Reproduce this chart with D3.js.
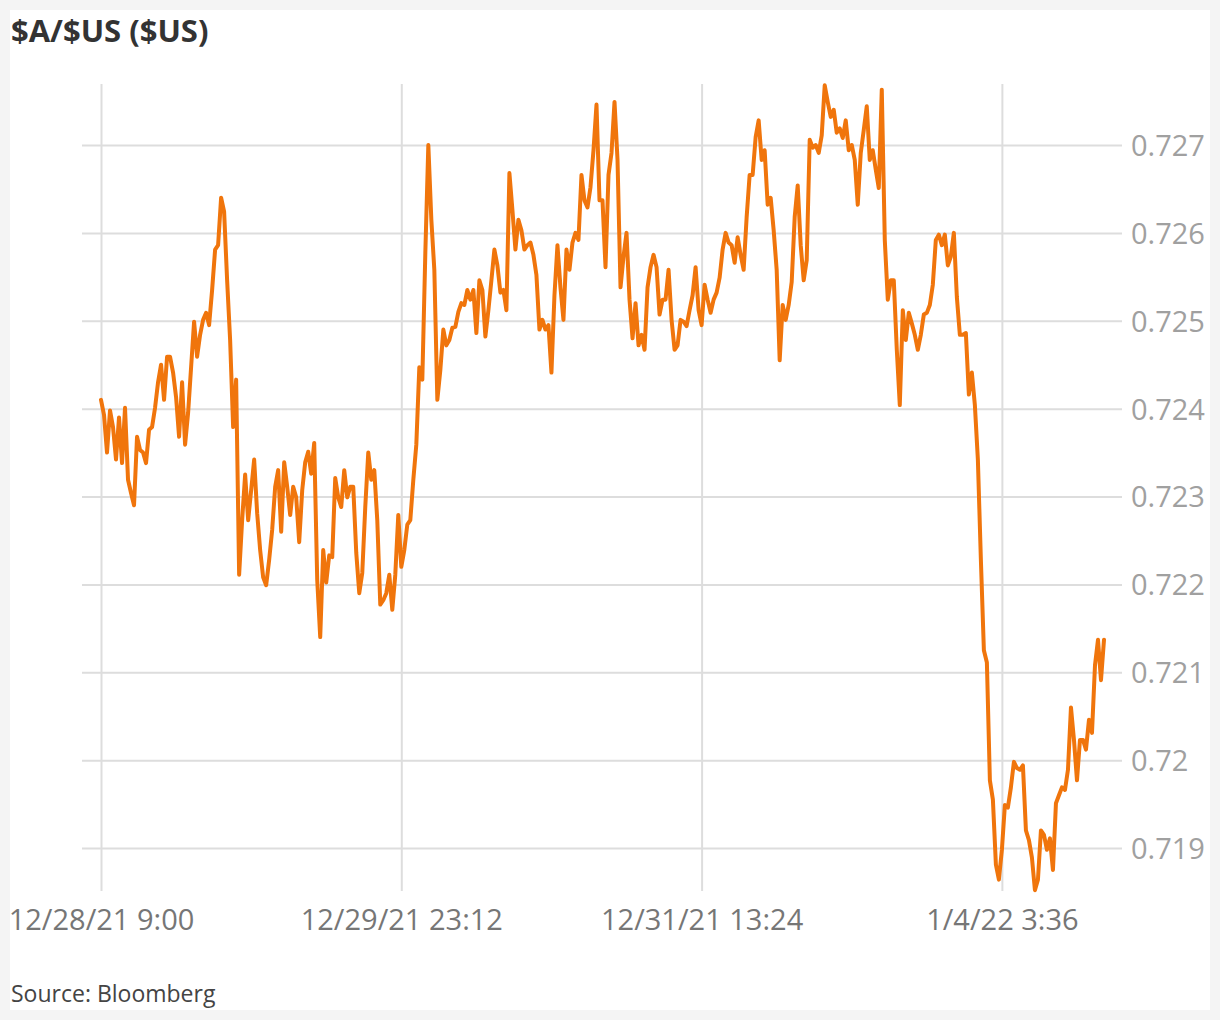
<!DOCTYPE html>
<html>
<head>
<meta charset="utf-8">
<script src="https://cdn.jsdelivr.net/npm/d3@7"></script>
<style>
  html, body { margin: 0; padding: 0; background: #f4f4f4; }
  svg { display: block; }
</style>
</head>
<body>
<svg id="chart" width="1220" height="1020"></svg>
<script>
// ---- Data ----
const title = "$A/$US ($US)";
const source = "Source: Bloomberg";
const yTicks = [0.719, 0.720, 0.721, 0.722, 0.723, 0.724, 0.725, 0.726, 0.727];
const yTickLabels = ["0.719", "0.72", "0.721", "0.722", "0.723", "0.724", "0.725", "0.726", "0.727"];
const xTickIndex = [0, 100, 200, 300];
const xTickLabels = ["12/28/21 9:00", "12/29/21 23:12", "12/31/21 13:24", "1/4/22 3:36"];

// AUD/USD, evenly spaced observations
const rate = [
0.72410,0.72393,0.72350,0.72398,0.72379,0.72342,0.72390,0.72338,0.72401,0.72319,
0.72304,0.72290,0.72368,0.72353,0.72350,0.72338,0.72376,0.72379,0.72401,0.72430,
0.72450,0.72410,0.72459,0.72459,0.72441,0.72413,0.72368,0.72430,0.72359,0.72395,
0.72447,0.72499,0.72459,0.72484,0.72501,0.72509,0.72495,0.72535,0.72581,0.72586,
0.72640,0.72624,0.72546,0.72478,0.72379,0.72433,0.72211,0.72273,0.72325,0.72273,
0.72307,0.72342,0.72281,0.72239,0.72208,0.72199,0.72228,0.72262,0.72311,0.72330,
0.72260,0.72339,0.72311,0.72279,0.72311,0.72299,0.72248,0.72307,0.72339,0.72351,
0.72326,0.72361,0.72205,0.72140,0.72239,0.72202,0.72233,0.72231,0.72321,0.72299,
0.72288,0.72330,0.72299,0.72311,0.72311,0.72236,0.72190,0.72213,0.72288,0.72350,
0.72319,0.72330,0.72273,0.72177,0.72182,0.72190,0.72211,0.72171,0.72211,0.72279,
0.72220,0.72239,0.72268,0.72273,0.72319,0.72359,0.72447,0.72433,0.72577,0.72700,
0.72615,0.72558,0.72410,0.72444,0.72490,0.72472,0.72478,0.72492,0.72493,0.72510,
0.72520,0.72518,0.72535,0.72524,0.72535,0.72486,0.72546,0.72535,0.72482,0.72512,
0.72546,0.72581,0.72563,0.72532,0.72535,0.72512,0.72668,0.72626,0.72581,0.72615,
0.72603,0.72581,0.72586,0.72589,0.72575,0.72552,0.72490,0.72501,0.72490,0.72495,
0.72441,0.72529,0.72586,0.72538,0.72501,0.72581,0.72558,0.72589,0.72600,0.72592,
0.72666,0.72637,0.72629,0.72652,0.72694,0.72746,0.72637,0.72637,0.72561,0.72666,
0.72691,0.72749,0.72683,0.72538,0.72573,0.72600,0.72524,0.72480,0.72520,0.72472,
0.72484,0.72467,0.72538,0.72561,0.72575,0.72561,0.72507,0.72524,0.72524,0.72558,
0.72501,0.72467,0.72472,0.72501,0.72499,0.72494,0.72512,0.72529,0.72561,0.72512,
0.72495,0.72541,0.72524,0.72509,0.72524,0.72532,0.72549,0.72581,0.72600,0.72589,
0.72586,0.72566,0.72595,0.72575,0.72558,0.72618,0.72666,0.72666,0.72709,0.72728,
0.72683,0.72694,0.72632,0.72640,0.72603,0.72558,0.72455,0.72518,0.72501,0.72518,
0.72544,0.72618,0.72654,0.72586,0.72546,0.72569,0.72706,0.72697,0.72700,0.72691,
0.72711,0.72768,0.72749,0.72732,0.72740,0.72714,0.72719,0.72708,0.72728,0.72694,
0.72700,0.72683,0.72632,0.72691,0.72717,0.72744,0.72683,0.72694,0.72672,0.72651,
0.72763,0.72592,0.72524,0.72546,0.72546,0.72467,0.72404,0.72512,0.72478,0.72509,
0.72497,0.72484,0.72467,0.72484,0.72507,0.72509,0.72518,0.72541,0.72592,0.72598,
0.72586,0.72598,0.72563,0.72573,0.72600,0.72527,0.72484,0.72484,0.72486,0.72416,
0.72441,0.72404,0.72342,0.72228,0.72125,0.72111,0.71977,0.71955,0.71881,0.71864,
0.71898,0.71949,0.71946,0.71969,0.71998,0.71991,0.71989,0.71994,0.71920,0.71909,
0.71889,0.71852,0.71864,0.71920,0.71915,0.71898,0.71911,0.71875,0.71951,0.71960,
0.71969,0.71966,0.71989,0.72060,0.72023,0.71977,0.72023,0.72023,0.72012,0.72046,
0.72031,0.72108,0.72137,0.72091,0.72137
];

// ---- Drawing ----
const svg = d3.select("#chart");
const W = 1220, H = 1020;

svg.append("rect").attr("x", 0).attr("y", 0).attr("width", W).attr("height", H).attr("fill", "#f4f4f4");
svg.append("rect").attr("x", 10).attr("y", 10).attr("width", 1200).attr("height", 1000).attr("fill", "#ffffff");

const x = d3.scaleLinear().domain([0, rate.length - 1]).range([101, 1104]);
const y = d3.scaleLinear().domain([0.719, 0.727]).range([848, 145]);

const font = "'Open Sans', 'DejaVu Sans', sans-serif";

// horizontal gridlines + y labels (right)
const yAxis = d3.axisRight(y).tickValues(yTicks)
  .tickSize(1122 - 82)
  .tickFormat((d, i) => yTickLabels[i]);
const gy = svg.append("g").attr("transform", "translate(82,0)").call(yAxis);
gy.select(".domain").remove();
gy.selectAll(".tick line").attr("stroke", "#dddddd").attr("stroke-width", 2);
gy.selectAll(".tick text")
  .attr("x", 1131 - 82)
  .attr("dy", "0.36em")
  .attr("fill", "#a0a0a0")
  .style("font-family", font)
  .style("font-size", "29px");

// vertical gridlines + x labels
const xAxis = d3.axisBottom(x).tickValues(xTickIndex)
  .tickSize(891 - 84)
  .tickFormat((d, i) => xTickLabels[i]);
const gx = svg.append("g").attr("transform", "translate(0,84)").call(xAxis);
gx.select(".domain").remove();
gx.selectAll(".tick line").attr("stroke", "#dddddd").attr("stroke-width", 2);
gx.selectAll(".tick text")
  .attr("y", 930 - 84)
  .attr("dy", 0)
  .attr("fill", "#767676")
  .style("font-family", font)
  .style("font-size", "29px");

// line
const line = d3.line().x((d, i) => x(i)).y(d => y(d));
svg.append("path").datum(rate)
  .attr("d", line)
  .attr("fill", "none")
  .attr("stroke", "#f0750c")
  .attr("stroke-width", 4)
  .attr("stroke-linejoin", "round")
  .attr("stroke-linecap", "round");

// title & source
svg.append("text").attr("x", 11).attr("y", 42)
  .text(title)
  .attr("fill", "#333333")
  .style("font-family", font)
  .style("font-weight", "700")
  .style("font-size", "31px");

svg.append("text").attr("x", 11).attr("y", 1002)
  .text(source)
  .attr("fill", "#444444")
  .style("font-family", font)
  .style("font-size", "23px");
</script>
</body>
</html>
